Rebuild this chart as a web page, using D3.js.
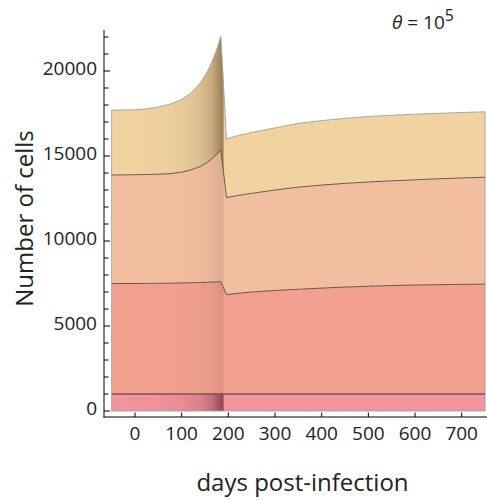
<!DOCTYPE html>
<html><head><meta charset="utf-8">
<script src="https://cdn.jsdelivr.net/npm/d3@7"></script>
<style>
body{margin:0;background:#fff;}
svg{display:block;font-family:"Open Sans","Noto Sans",sans-serif;}
</style></head>
<body>
<svg id="chart" width="487" height="500"></svg>
<script>
// ---- data ----
const days        = [-50,0,25,50,75,100,120,140,155,165,175,184,196,220,250,300,350,400,450,500,550,600,650,700,750];
const totalCells  = [17700,17720,17780,17880,18050,18320,18700,19300,19950,20550,21250,22050,16000,16200,16380,16650,16920,17080,17220,17320,17400,17460,17510,17560,17600];
const layer3Top   = [13880,13900,13910,13930,13960,14050,14180,14380,14620,14850,15080,15350,12550,12680,12800,13000,13170,13290,13390,13470,13540,13600,13660,13710,13750];
const layer2Top   = [7500,7500,7505,7510,7515,7530,7545,7560,7575,7585,7595,7600,6850,6920,7000,7090,7160,7230,7290,7340,7380,7410,7430,7450,7460];
const layer1Top   = [1000,1000,1000,1000,1000,1000,1000,1000,1000,1000,1000,1000,1000,1000,1000,1000,1000,1000,1000,1000,1000,1000,1000,1000,1000];
const layer0      = days.map(() => 0);
const xTicks = [0,100,200,300,400,500,600,700];
const yMajorTicks = [0,5000,10000,15000,20000];
const yMinorTicks = d3.range(0,22001,1000);
const layerColors = ["#f2949b","#f2a190","#f1bfa0","#f0d3a1"];
const shadeColors = ["#4a0c1c","#6a2a18","#6a3a20","#4a3010"];
const shadeStrength = [0.55,0.14,0.14,0.5];

const svg = d3.select("#chart");
const x = d3.scaleLinear().domain([0,700]).range([135,461.7]);
const y = d3.scaleLinear().domain([0,20000]).range([411,71]);

const bounds = [layer0, layer1Top, layer2Top, layer3Top, totalCells];
const defs = svg.append("defs");

// shading gradients (3D-like darkening before the crash)
const shadeStops = [[-50,0],[40,0.02],[100,0.1],[140,0.25],[165,0.5],[178,0.8],[186,1],[189,0.9],[191,0],[750,0]];
shadeColors.forEach((c,i)=>{
  const g = defs.append("linearGradient").attr("id","shade"+i)
    .attr("gradientUnits","userSpaceOnUse")
    .attr("x1", x(-50)).attr("x2", x(750)).attr("y1",0).attr("y2",0);
  shadeStops.forEach(([d,o])=>{
    g.append("stop").attr("offset", (d+50)/800)
      .attr("stop-color", c).attr("stop-opacity", o*shadeStrength[i]);
  });
});

for (let i=0;i<4;i++){
  const lo = bounds[i], hi = bounds[i+1];
  const area = d3.area()
    .x((d,j)=>x(days[j]))
    .y0((d,j)=>y(lo[j]))
    .y1((d,j)=>y(hi[j]))
    .curve(d3.curveLinear);
  svg.append("path").datum(days).attr("d",area).attr("fill",layerColors[i]);
  svg.append("path").datum(days).attr("d",area).attr("fill","url(#shade"+i+")");
}
// outer light-gray outline
const outer = d3.area().x((d,j)=>x(days[j])).y0(()=>y(0)).y1((d,j)=>y(totalCells[j])).curve(d3.curveLinear);
svg.append("path").datum(days).attr("d",outer).attr("fill","none").attr("stroke","#a0a0a0").attr("stroke-width",0.9);

// internal boundary lines
const lineGen = arr => d3.line().x((d,j)=>x(days[j])).y((d,j)=>y(arr[j])).curve(d3.curveLinear);
[layer2Top, layer3Top].forEach(arr=>{
  svg.append("path").datum(days).attr("d",lineGen(arr)).attr("fill","none")
    .attr("stroke","#5e4a3e").attr("stroke-width",0.9);
});
svg.append("path").datum(days).attr("d",lineGen(layer1Top)).attr("fill","none")
  .attr("stroke","#7c5255").attr("stroke-width",1.4);

// axes
const axisG = svg.append("g").attr("stroke","#000");
axisG.append("line").attr("x1",104).attr("x2",104).attr("y1",30).attr("y2",417.5).attr("stroke-width",1);
axisG.append("line").attr("x1",103.5).attr("x2",487).attr("y1",417).attr("y2",417).attr("stroke-width",1);

// y ticks (inward)
svg.append("g").selectAll("line").data(yMinorTicks).join("line")
  .attr("x1",104).attr("x2",d=> yMajorTicks.includes(d)?110:108.5)
  .attr("y1",d=>y(d)).attr("y2",d=>y(d)).attr("stroke","#000").attr("stroke-width",1);
svg.append("g").selectAll("text").data(yMajorTicks).join("text")
  .attr("x",97).attr("y",d=>y(d)).attr("dy","0.2em")
  .attr("text-anchor","end").attr("font-size",19).attr("fill","#222")
  .text(d=>d);

// x ticks (inward)
svg.append("g").selectAll("line").data(xTicks).join("line")
  .attr("x1",d=>x(d)).attr("x2",d=>x(d)).attr("y1",417).attr("y2",412.5)
  .attr("stroke","#000").attr("stroke-width",1);
svg.append("g").selectAll("text").data(xTicks).join("text")
  .attr("x",d=>x(d)).attr("y",440)
  .attr("text-anchor","middle").attr("font-size",19).attr("fill","#222")
  .text(d=>d);

// axis titles
svg.append("text").attr("transform","translate(33,218.5) rotate(-90)")
  .attr("text-anchor","middle").attr("font-size",24).attr("fill","#222").text("Number of cells");
svg.append("text").attr("x",302.5).attr("y",491)
  .attr("text-anchor","middle").attr("font-size",24).attr("fill","#222").text("days post-infection");

// theta label
const th = svg.append("text").attr("x",392).attr("y",29).attr("font-size",19).attr("fill","#222");
th.append("tspan").attr("font-style","italic").text("θ");
th.append("tspan").text(" = 10");
th.append("tspan").attr("dy",-8).attr("font-size",16).text("5");
</script>
</body></html>
